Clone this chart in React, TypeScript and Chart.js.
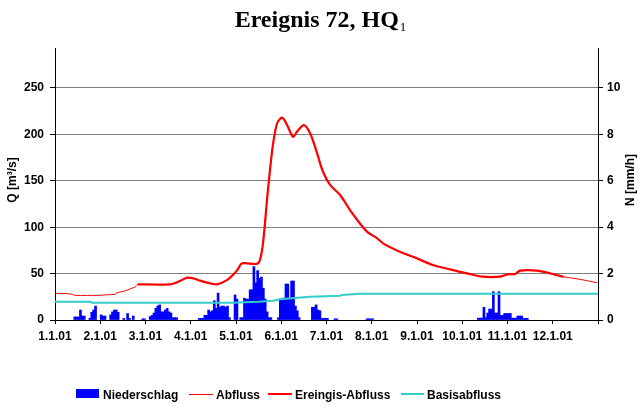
import React, { useEffect, useRef } from "react";
import { Chart, registerables } from "chart.js";

Chart.register(...registerables);

const xLabels = ["1.1.01", "2.1.01", "3.1.01", "4.1.01", "5.1.01", "6.1.01", "7.1.01", "8.1.01", "9.1.01", "10.1.01", "11.1.01", "12.1.01"];

// Abfluss (discharge) – time in days since 1.1.01, Q in m³/s
const qDay = [0, 0.22, 0.38, 0.44, 0.95, 1.17, 1.33, 1.37, 1.48, 1.59, 1.68, 1.77, 1.83, 2.54, 2.76, 2.92, 3.05, 3.2, 3.43, 3.58, 3.8, 3.93, 4.04, 4.13, 4.46, 4.53, 4.6, 4.69, 4.75, 4.82, 4.91, 5.02, 5.13, 5.26, 5.35, 5.5, 5.64, 5.79, 5.92, 6.08, 6.3, 6.52, 6.74, 6.9, 7.12, 7.25, 7.62, 8.0, 8.35, 8.73, 9.1, 9.46, 9.83, 10.0, 10.17, 10.28, 10.65, 10.94, 11.23, 11.6, 11.98];
const qValue = [28.7, 28.5, 27.7, 26.6, 26.6, 27.2, 27.7, 29.4, 30.5, 32, 34, 35.5, 38.4, 38.4, 42, 45.6, 45, 42.4, 39.5, 38.4, 43, 48.5, 54.6, 61, 60.5, 64.7, 84, 132, 161, 190, 212, 218, 210, 197.5, 203, 210, 201, 180, 160, 145.5, 134.7, 118.5, 104, 95, 88, 82.6, 73.6, 66.4, 59.3, 54.6, 50.3, 46.7, 46.7, 49.2, 49.6, 53.2, 53.2, 50.3, 46.7, 43.8, 40.2];

const eventStartDay = 1.83;
const eventEndDay = 11.23;

// Basisabfluss
const baseDay = [0, 0.78, 0.82, 3.93, 4.5, 4.82, 4.97, 5.64, 6.3, 6.34, 6.74, 12];
const baseValue = [19.7, 19.7, 18.6, 18.6, 19.6, 20.8, 22.3, 25, 26.2, 26.9, 28.4, 28.4];

// Niederschlag – hour index since 1.1.01 00:00, N in mm/h
const rainHour = [10, 11, 12, 13, 14, 15, 18, 19, 20, 21, 24, 25, 26, 29, 30, 31, 32, 33, 36, 38, 39, 41, 46, 47, 50, 51, 52, 53, 54, 55, 56, 57, 58, 59, 60, 61, 62, 63, 64, 76, 77, 78, 79, 80, 81, 82, 83, 84, 85, 86, 87, 88, 89, 90, 91, 92, 95, 96, 98, 99, 100, 101, 102, 103, 104, 105, 106, 107, 108, 109, 110, 111, 112, 113, 114, 118, 119, 120, 121, 122, 123, 124, 125, 126, 127, 128, 129, 136, 137, 138, 139, 140, 141, 142, 143, 144, 148, 149, 165, 166, 167, 168, 224, 225, 226, 227, 228, 229, 230, 231, 232, 233, 234, 235, 236, 237, 238, 239, 240, 241, 242, 243, 244, 245, 246, 247, 248, 249, 250];
const rainValue = [0.13, 0.13, 0.13, 0.43, 0.17, 0.17, 0.07, 0.33, 0.43, 0.6, 0.22, 0.17, 0.17, 0.22, 0.35, 0.43, 0.43, 0.33, 0.07, 0.28, 0.07, 0.17, 0.05, 0.05, 0.15, 0.2, 0.3, 0.5, 0.6, 0.65, 0.35, 0.35, 0.43, 0.5, 0.35, 0.3, 0.1, 0.1, 0.1, 0.07, 0.07, 0.07, 0.2, 0.2, 0.43, 0.35, 0.4, 0.83, 0.5, 1.16, 0.55, 0.6, 0.6, 0.55, 0.6, 0.1, 1.08, 0.9, 0.1, 0.1, 0.94, 0.9, 0.9, 1.3, 1.3, 2.3, 1.6, 2.13, 1.8, 1.85, 1.37, 0.9, 0.35, 0.1, 0.1, 0.1, 0.9, 0.94, 0.94, 1.55, 1.55, 0.94, 1.68, 1.68, 0.6, 0.4, 0.1, 0.55, 0.55, 0.65, 0.43, 0.4, 0.07, 0.07, 0.07, 0.07, 0.05, 0.05, 0.05, 0.05, 0.05, 0.05, 0.08, 0.08, 0.08, 0.55, 0.1, 0.3, 0.47, 0.47, 1.22, 0.3, 0.3, 1.22, 0.2, 0.2, 0.28, 0.28, 0.28, 0.28, 0.08, 0.08, 0.08, 0.17, 0.17, 0.17, 0.07, 0.07, 0.07];

const qMax = 293.1;
const nMax = 11.72;

const FONT = "'Liberation Sans', Arial, sans-serif";

const decorPlugin = {
  id: "decor",
  afterDraw(chart: any) {
    const ctx = chart.ctx as CanvasRenderingContext2D;
    ctx.save();
    // Title
    const main = "Ereignis 72, HQ";
    ctx.fillStyle = "#000";
    ctx.textBaseline = "alphabetic";
    ctx.font = "bold 24px 'Liberation Serif', 'Times New Roman', serif";
    const wMain = ctx.measureText(main).width;
    ctx.font = "13px 'Liberation Serif', 'Times New Roman', serif";
    const wSub = ctx.measureText("1").width;
    const startX = 320 - (wMain + wSub) / 2;
    ctx.font = "bold 24px 'Liberation Serif', 'Times New Roman', serif";
    ctx.textAlign = "left";
    ctx.fillText(main, startX, 27);
    ctx.font = "13px 'Liberation Serif', 'Times New Roman', serif";
    ctx.fillText("1", startX + wMain + 1, 31);

    // Axis titles
    ctx.font = "bold 12px " + FONT;
    ctx.textAlign = "center";
    ctx.textBaseline = "middle";
    ctx.save();
    ctx.translate(12.5, 180);
    ctx.rotate(-Math.PI / 2);
    ctx.fillText("Q [m³/s]", 0, 0);
    ctx.restore();
    ctx.save();
    ctx.translate(631, 180);
    ctx.rotate(-Math.PI / 2);
    ctx.fillText("N [mm/h]", 0, 0);
    ctx.restore();

    // Legend
    ctx.textAlign = "left";
    ctx.textBaseline = "alphabetic";
    ctx.font = "bold 12px " + FONT;
    ctx.fillStyle = "#0000FF";
    ctx.fillRect(76, 389, 23, 9);
    ctx.fillStyle = "#000";
    ctx.fillText("Niederschlag", 103, 399);

    const legLine = (x1: number, x2: number, color: string, w: number, label: string, tx: number) => {
      ctx.beginPath();
      ctx.strokeStyle = color;
      ctx.lineWidth = w;
      const y = w % 2 === 1 ? 394.5 : 394;
      ctx.moveTo(x1, y);
      ctx.lineTo(x2, y);
      ctx.stroke();
      ctx.fillStyle = "#000";
      ctx.fillText(label, tx, 399);
    };
    legLine(189, 213, "#FF0000", 1, "Abfluss", 216);
    legLine(268, 292, "#FF0000", 2, "Ereingis-Abfluss", 295);
    legLine(401, 424, "#33CCCC", 2, "Basisabfluss", 427);
    ctx.restore();
  },
};

export default function App() {
  const canvasRef = useRef<HTMLCanvasElement | null>(null);

  useEffect(() => {
    document.body.style.margin = "0";
    const canvas = canvasRef.current;
    if (!canvas) return;

    const qPoints = qDay.map((d, i) => ({ x: d, y: qValue[i] }));
    const eventPoints = qPoints.filter((p) => p.x >= eventStartDay && p.x <= eventEndDay);
    const basePoints = baseDay.map((d, i) => ({ x: d, y: baseValue[i] }));
    const rainPoints = rainHour.map((h, i) => ({ x: (h + 0.5) / 24, y: rainValue[i] }));

    const tickFont = { family: FONT, size: 12, weight: "bold" as const };

    const chart = new Chart(canvas, {
      type: "line",
      data: {
        datasets: [
          {
            type: "bar",
            label: "Niederschlag",
            data: rainPoints,
            backgroundColor: "#0000FF",
            borderWidth: 0,
            barThickness: 2,
            xAxisID: "x",
            yAxisID: "y1",
            order: 3,
          } as any,
          {
            type: "line",
            label: "Basisabfluss",
            data: basePoints,
            borderColor: "#33CCCC",
            borderWidth: 2,
            pointRadius: 0,
            tension: 0,
            xAxisID: "x",
            yAxisID: "y",
            order: 2,
          },
          {
            type: "line",
            label: "Abfluss",
            data: qPoints,
            borderColor: "#FF0000",
            borderWidth: 1,
            pointRadius: 0,
            tension: 0.3,
            xAxisID: "x",
            yAxisID: "y",
            order: 1,
          },
          {
            type: "line",
            label: "Ereingis-Abfluss",
            data: eventPoints,
            borderColor: "#FF0000",
            borderWidth: 2.2,
            pointRadius: 0,
            tension: 0.3,
            xAxisID: "x",
            yAxisID: "y",
            order: 0,
          },
        ],
      },
      options: {
        responsive: false,
        devicePixelRatio: 1,
        animation: false,
        layout: { padding: { top: 48, left: 0, right: 0, bottom: 0 } },
        plugins: {
          legend: { display: false },
          title: { display: false },
          tooltip: { enabled: false },
        },
        scales: {
          x: {
            type: "linear",
            position: "bottom",
            min: 0,
            max: 12,
            offset: false,
            afterFit: (s: any) => {
              s.height = 87;
            },
            ticks: {
              stepSize: 1,
              autoSkip: false,
              maxRotation: 0,
              minRotation: 0,
              padding: 5,
              color: "#000",
              font: tickFont,
              callback: (v: any) => (Number.isInteger(v) && xLabels[v] ? xLabels[v] : ""),
            },
            grid: {
              drawOnChartArea: false,
              drawTicks: true,
              tickLength: 4,
              tickColor: "#000",
              offset: false,
            },
            border: { display: true, color: "#000", width: 1 },
          },
          y: {
            type: "linear",
            position: "left",
            min: 0,
            max: qMax,
            afterFit: (s: any) => {
              s.width = 55;
            },
            afterBuildTicks: (s: any) => {
              s.ticks = s.ticks.filter((t: any) => t.value % 50 === 0 && t.value <= 250);
            },
            ticks: {
              stepSize: 50,
              padding: 6,
              color: "#000",
              font: tickFont,
            },
            grid: {
              color: (c: any) => (c.tick && c.tick.value === 0 ? "rgba(0,0,0,0)" : "#808080"),
              tickColor: "#000",
              tickLength: 5,
              lineWidth: 1,
            },
            border: { display: true, color: "#000", width: 1 },
          },
          y1: {
            type: "linear",
            position: "right",
            min: 0,
            max: nMax,
            afterFit: (s: any) => {
              s.width = 45;
            },
            afterBuildTicks: (s: any) => {
              s.ticks = s.ticks.filter((t: any) => t.value % 2 === 0 && t.value <= 10);
            },
            ticks: {
              stepSize: 2,
              padding: 4,
              color: "#000",
              font: tickFont,
            },
            grid: {
              drawOnChartArea: false,
              tickColor: "#000",
              tickLength: 5,
            },
            border: { display: true, color: "#000", width: 1 },
          },
        },
      },
      plugins: [decorPlugin],
    });

    return () => chart.destroy();
  }, []);

  return (
    <div style={{ width: 643, height: 407, background: "#fff" }}>
      <canvas ref={canvasRef} width={643} height={407} style={{ display: "block" }} />
    </div>
  );
}
